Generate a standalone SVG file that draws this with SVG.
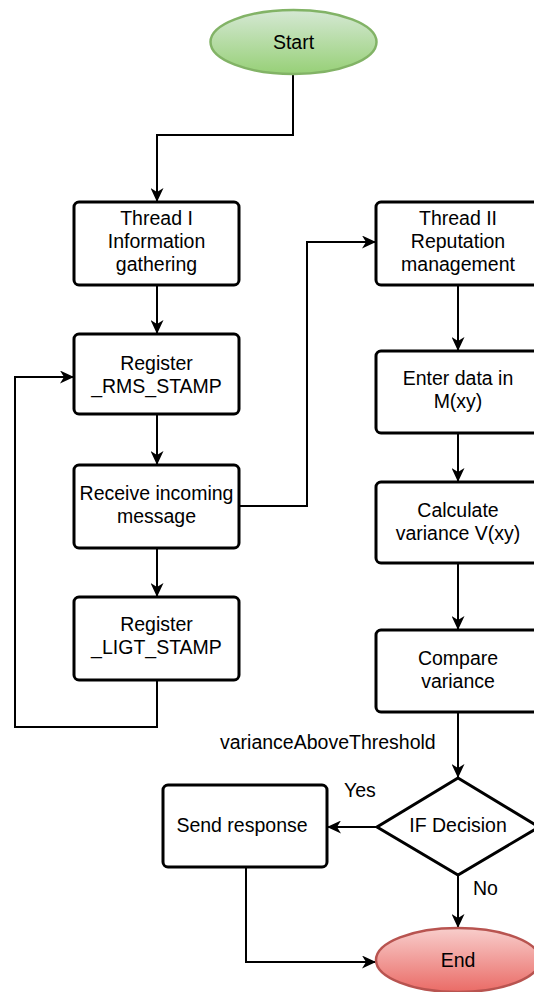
<svg xmlns="http://www.w3.org/2000/svg" width="534" height="992" viewBox="0 0 534 992">
  <style>
    .box { fill: #ffffff; stroke: #000000; stroke-width: 3; }
    .edge { fill: none; stroke: #000000; stroke-width: 2; marker-end: url(#arrow); }
    text { font-family: "Liberation Sans", Arial, Helvetica, sans-serif; font-size: 19.5px; fill: #000000; text-anchor: middle; }
    .lbl { text-anchor: start; }
  </style>
  <defs>
    <marker id="arrow" viewBox="0 0 14 13" refX="14" refY="6.5" markerWidth="14" markerHeight="13" markerUnits="userSpaceOnUse" orient="auto">
      <path d="M0,0 L14,6.5 L0,13 L4,6.5 Z" fill="#000000"/>
    </marker>
    <linearGradient id="gradStart" x1="0" y1="0" x2="0" y2="1">
      <stop offset="0" stop-color="#d5e8d4"/>
      <stop offset="1" stop-color="#97d077"/>
    </linearGradient>
    <linearGradient id="gradEnd" x1="0" y1="0" x2="0" y2="1">
      <stop offset="0" stop-color="#f8cecc"/>
      <stop offset="1" stop-color="#ea6b66"/>
    </linearGradient>
  </defs>

  <rect width="534" height="992" fill="#ffffff"/>

  <!-- connectors -->
  <g id="connectors">
    <path class="edge" d="M293,75 V135 H157 V202"/>
    <path class="edge" d="M157,285 V334"/>
    <path class="edge" d="M157,414 V465"/>
    <path class="edge" d="M157,548 V597"/>
    <path class="edge" d="M157,680 V727 H15 V377 H74"/>
    <path class="edge" d="M239,506 H307 V242 H376"/>
    <path class="edge" d="M458,285 V351"/>
    <path class="edge" d="M458,433 V482"/>
    <path class="edge" d="M458,563 V630"/>
    <path class="edge" d="M458,712 V778"/>
    <path class="edge" d="M377,827 H327"/>
    <path class="edge" d="M458,875 V928"/>
    <path class="edge" d="M246,867 V962 H376"/>
    <text class="lbl" x="220" y="749">varianceAboveThreshold</text>
    <text class="lbl" x="344" y="797">Yes</text>
    <text class="lbl" x="473" y="895">No</text>
  </g>

  <!-- nodes -->
  <g id="start">
    <ellipse cx="293.5" cy="42" rx="83" ry="32" fill="url(#gradStart)" stroke="#82b366" stroke-width="2.5"/>
    <text x="293.5" y="49">Start</text>
  </g>

  <g id="thread1">
    <rect class="box" x="74" y="202" width="165" height="83" rx="5"/>
    <text x="156.5" y="225">Thread I</text>
    <text x="156.5" y="248">Information</text>
    <text x="156.5" y="271">gathering</text>
  </g>

  <g id="registerRms">
    <rect class="box" x="74" y="334" width="165" height="80" rx="5"/>
    <text x="156.5" y="370">Register</text>
    <text x="156.5" y="393">_RMS_STAMP</text>
  </g>

  <g id="receive">
    <rect class="box" x="74" y="465" width="165" height="83" rx="5"/>
    <text x="156.5" y="500">Receive incoming</text>
    <text x="156.5" y="523">message</text>
  </g>

  <g id="registerLigt">
    <rect class="box" x="74" y="597" width="165" height="83" rx="5"/>
    <text x="156.5" y="631">Register</text>
    <text x="156.5" y="654">_LIGT_STAMP</text>
  </g>

  <g id="thread2">
    <rect class="box" x="376" y="202" width="165" height="83" rx="5"/>
    <text x="458" y="225">Thread II</text>
    <text x="458" y="248">Reputation</text>
    <text x="458" y="271">management</text>
  </g>

  <g id="enterData">
    <rect class="box" x="376" y="351" width="165" height="82" rx="5"/>
    <text x="458" y="385">Enter data in</text>
    <text x="458" y="408">M(xy)</text>
  </g>

  <g id="calcVariance">
    <rect class="box" x="376" y="482" width="165" height="81" rx="5"/>
    <text x="458" y="517">Calculate</text>
    <text x="458" y="540">variance V(xy)</text>
  </g>

  <g id="compare">
    <rect class="box" x="376" y="630" width="165" height="82" rx="5"/>
    <text x="458" y="665">Compare</text>
    <text x="458" y="688">variance</text>
  </g>

  <g id="decision">
    <polygon class="box" points="458,778 539,827 458,875 377,827"/>
    <text x="458" y="832">IF Decision</text>
  </g>

  <g id="sendResponse">
    <rect class="box" x="163" y="785" width="164" height="82" rx="5"/>
    <text x="242" y="832">Send response</text>
  </g>

  <g id="end">
    <ellipse cx="458" cy="960" rx="82" ry="32" fill="url(#gradEnd)" stroke="#b85450" stroke-width="2.5"/>
    <text x="458" y="967">End</text>
  </g>
</svg>
